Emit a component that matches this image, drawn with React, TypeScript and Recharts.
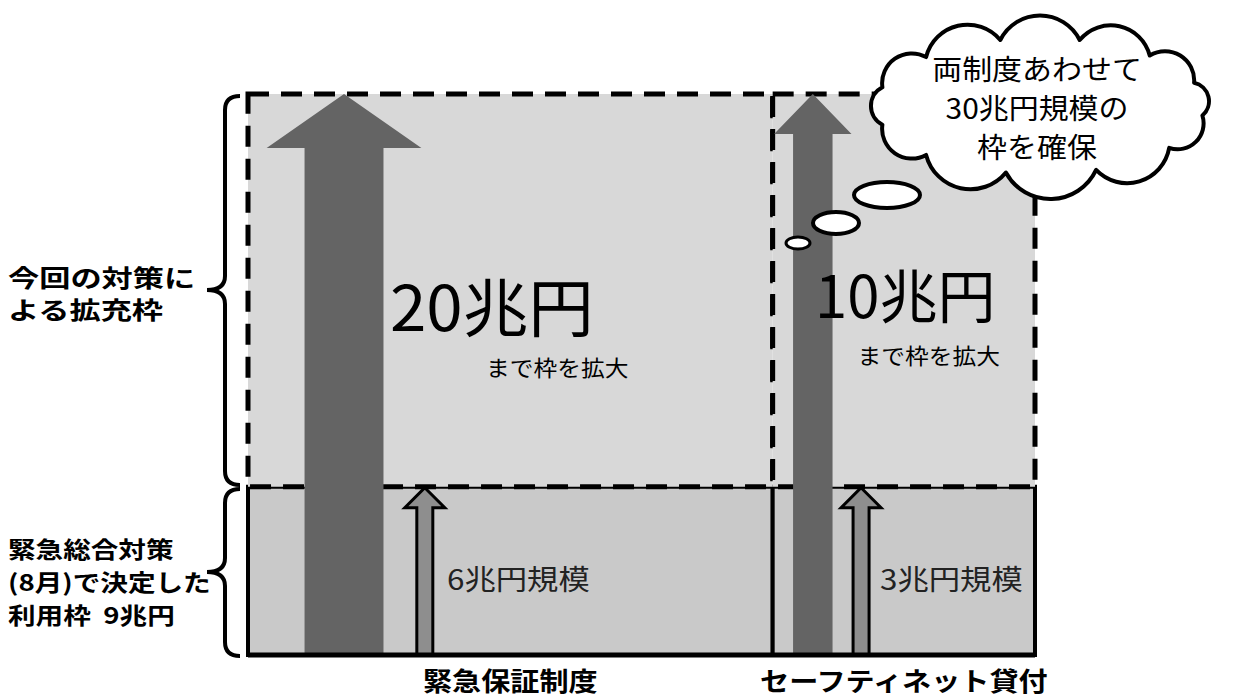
import React from 'react';
import { ComposedChart, XAxis, YAxis, ReferenceArea, ReferenceLine, Scatter } from 'recharts';

// ---- data (兆円) ----
const categories = ['緊急保証制度', 'セーフティネット貸付'];
const totalLimits = [20, 10];
const baseLimits = [6, 3];
const combinedNote = ['両制度あわせて', '30兆円規模の', '枠を確保'];
const upperBraceLabel = ['今回の対策に', 'よる拡充枠'];
const lowerBraceLabel = ['緊急総合対策', '(8月)で決定した', '利用枠\u00a0\u00a09兆円'];

// ---- layout constants ----
const W = 1256;
const H = 699;
const FONT = '"Noto Sans CJK JP", "Noto Sans", sans-serif';
const bigArrowPos = [0.183, 0.153];
const bigArrowHalf = 0.1475;
const bigArrowHead = [54, 40];
const thinArrowPos = 0.337;

const starts = totalLimits.map((_, i) => totalLimits.slice(0, i).reduce((a, b) => a + b, 0));
const ends = starts.map((s, i) => s + totalLimits[i]);
const centers = starts.map((s, i) => s + totalLimits[i] / 2);
const basePct = baseLimits.map((b, i) => (b / totalLimits[i]) * 100);
const grandTotal = totalLimits.reduce((a, b) => a + b, 0);
const data = categories.map((name, i) => ({ name, center: centers[i], top: 100, total: totalLimits[i] }));

const BigArrow = (props: any) => {
  const { x, y, width, height, head } = props;
  const cx = x + width / 2;
  const hw = width / 2;
  const sw = width * 0.255;
  const b = y + height;
  const pts = [
    [cx, y],
    [cx + hw, y + head],
    [cx + sw, y + head],
    [cx + sw, b],
    [cx - sw, b],
    [cx - sw, y + head],
    [cx - hw, y + head],
  ];
  return <polygon points={pts.map((p) => p.join(',')).join(' ')} fill="#646464" />;
};

const ThinArrow = (props: any) => {
  const { x, y, width, height } = props;
  const cx = x + width / 2;
  const b = y + height;
  const pts = [
    [cx, y + 1],
    [cx + 20, y + 21],
    [cx + 8, y + 21],
    [cx + 8, b],
    [cx - 8, b],
    [cx - 8, y + 21],
    [cx - 20, y + 21],
  ];
  return (
    <polygon
      points={pts.map((p) => p.join(',')).join(' ')}
      fill="#8e8e8e"
      stroke="#000"
      strokeWidth={3}
      strokeLinejoin="miter"
    />
  );
};

const CategoryTick = (props: any) => {
  const { x, y, payload } = props;
  const idx = centers.indexOf(payload.value);
  return (
    <text
      transform={`translate(${x},${y + 28}) scale(1.12,1)`}
      textAnchor="middle"
      fontFamily={FONT}
      fontWeight={700}
      fontSize={26}
      fill="#000"
    >
      {categories[idx]}
    </text>
  );
};

function cloudPath(cx: number, cy: number, rx: number, ry: number, angles: number[]) {
  const pts = angles.map((a) => {
    const r = (a * Math.PI) / 180;
    return [cx + rx * Math.cos(r), cy + ry * Math.sin(r)];
  });
  let d = `M${pts[0][0].toFixed(1)},${pts[0][1].toFixed(1)}`;
  for (let i = 0; i < pts.length; i++) {
    const p = pts[i];
    const q = pts[(i + 1) % pts.length];
    const chord = Math.hypot(q[0] - p[0], q[1] - p[1]);
    const r = chord * 0.56;
    d += ` A${r.toFixed(1)},${r.toFixed(1)} 0 0 1 ${q[0].toFixed(1)},${q[1].toFixed(1)}`;
  }
  return d + ' Z';
}

function bracePath(xEnd: number, xv: number, xp: number, y0: number, ym: number, y1: number) {
  const r = 14;
  return `M${xEnd},${y0} Q${xv},${y0} ${xv},${y0 + r} L${xv},${ym - r} Q${xv},${ym} ${xp},${ym} Q${xv},${ym} ${xv},${ym + r} L${xv},${y1 - r} Q${xv},${y1} ${xEnd},${y1}`;
}

export default function App() {
  const cloud = cloudPath(1040, 106, 164, 68, [196, 226, 256, 284, 312, 340, 8, 38, 70, 102, 134, 164]);
  return (
    <div style={{ position: 'absolute', left: 0, top: 0, width: W, height: H, background: '#fff', overflow: 'hidden' }}>
      <ComposedChart width={W} height={H} data={data} margin={{ top: 94, left: 248, right: 221, bottom: 4 }}>
        <XAxis
          dataKey="center"
          type="number"
          domain={[0, grandTotal]}
          allowDataOverflow
          ticks={centers}
          axisLine={false}
          tickLine={false}
          height={40}
          tick={<CategoryTick />}
          interval={0}
        />
        <YAxis type="number" dataKey="top" domain={[0, 100]} allowDataOverflow hide />
        <Scatter dataKey="top" fill="none" isAnimationActive={false} shape={() => <g />} />
        {categories.map((c, i) => (
          <ReferenceArea
            key={`base-${c}`}
            x1={starts[i]}
            x2={ends[i]}
            y1={0}
            y2={basePct[i]}
            fill="#c9c9c9"
            fillOpacity={1}
            stroke="#000"
            strokeWidth={4}
            ifOverflow="visible"
          />
        ))}
        {categories.map((c, i) => (
          <ReferenceArea
            key={`up-${c}`}
            x1={starts[i]}
            x2={ends[i]}
            y1={basePct[i]}
            y2={100}
            fill="#d8d8d8"
            fillOpacity={1}
            stroke="#000"
            strokeWidth={5}
            strokeDasharray="21 12"
            ifOverflow="visible"
          />
        ))}
        {categories.map((c, i) => {
          const cx = starts[i] + bigArrowPos[i] * totalLimits[i];
          const hw = bigArrowHalf * totalLimits[i];
          return (
            <ReferenceArea
              key={`big-${c}`}
              x1={cx - hw}
              x2={cx + hw}
              y1={0}
              y2={100}
              fillOpacity={1}
              ifOverflow="visible"
              shape={(p: any) => <BigArrow {...p} head={bigArrowHead[i]} />}
            />
          );
        })}
        {categories.map((c, i) => {
          const cx = starts[i] + thinArrowPos * totalLimits[i];
          return (
            <ReferenceArea
              key={`thin-${c}`}
              x1={cx - 0.2}
              x2={cx + 0.2}
              y1={0}
              y2={basePct[i]}
              fillOpacity={1}
              ifOverflow="visible"
              shape={(p: any) => <ThinArrow {...p} />}
            />
          );
        })}
        <ReferenceLine y={0} stroke="#000" strokeWidth={5} ifOverflow="visible" />
      </ComposedChart>
      <svg
        width={W}
        height={H}
        style={{ position: 'absolute', left: 0, top: 0, pointerEvents: 'none' }}
        fontFamily={FONT}
      >
        {/* braces */}
        <path d={bracePath(240, 225, 207, 96, 290, 485)} fill="none" stroke="#000" strokeWidth={4} />
        <path d={bracePath(240, 225, 207, 489, 572, 656)} fill="none" stroke="#000" strokeWidth={4} />
        {upperBraceLabel.map((t, i) => (
          <text key={t} transform={`translate(8,${287 + i * 32}) scale(1.3,1)`} fontSize={24} fontWeight={700} fill="#000">
            {t}
          </text>
        ))}
        {lowerBraceLabel.map((t, i) => (
          <text key={t} transform={`translate(8,${558 + i * 33}) scale(1.2,1)`} fontSize={23} fontWeight={700} fill="#000">
            {t}
          </text>
        ))}
        {/* value labels */}
        <text transform="translate(390,331) scale(1.04,1)" fontSize={63} fill="#000">{`${totalLimits[0]}兆円`}</text>
        <text x={487} y={376} fontSize={22} fill="#000" transform="translate(-40,0) scale(1.08,1)">まで枠を拡大</text>
        <text x={815} y={318} fontSize={58} fill="#000">{`${totalLimits[1]}兆円`}</text>
        <text x={857} y={364} fontSize={22} fill="#000" transform="translate(-68,0) scale(1.08,1)">まで枠を拡大</text>
        <text transform="translate(447,590) scale(1.12,1)" fontSize={28} fill="#222">{`${baseLimits[0]}兆円規模`}</text>
        <text transform="translate(880,590) scale(1.12,1)" fontSize={28} fill="#222">{`${baseLimits[1]}兆円規模`}</text>
        {/* thought cloud */}
        <ellipse cx={798} cy={243} rx={12} ry={6} fill="#fff" stroke="#000" strokeWidth={3} />
        <ellipse cx={836} cy={223} rx={23} ry={11} fill="#fff" stroke="#000" strokeWidth={4} />
        <ellipse cx={887} cy={195} rx={33} ry={13} fill="#fff" stroke="#000" strokeWidth={4} />
        <path d={cloud} fill="#fff" stroke="#000" strokeWidth={4} strokeLinejoin="round" />
        {combinedNote.map((t, i) => (
          <text
            key={t}
            transform={`translate(1037,${80 + i * 39}) scale(1.07,1)`}
            textAnchor="middle"
            fontSize={28}
            fill="#000"
          >
            {t}
          </text>
        ))}
      </svg>
    </div>
  );
}
